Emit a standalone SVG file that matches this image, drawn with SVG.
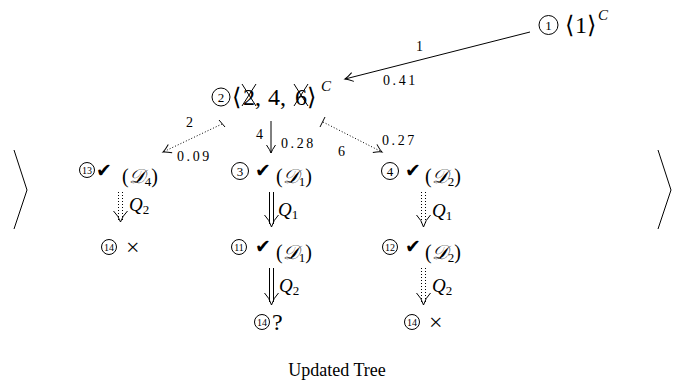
<svg xmlns="http://www.w3.org/2000/svg" width="674" height="388" viewBox="0 0 674 388">
<style>
.t{font-family:"Liberation Serif","DejaVu Serif",serif;fill:#000}
.big{font-size:24px}
.lab{font-size:14px}
.pr{font-size:14px;letter-spacing:2.6px}
.num{font-size:13px;text-anchor:middle}
.num2{font-size:10px;text-anchor:middle}
.ck{font-family:"DejaVu Sans",sans-serif;font-size:19px}
.d{font-size:20px}
.q{font-size:19px;font-style:italic}
.it{font-style:italic}
.sub{font-size:13px;font-style:normal}
.sup{font-size:15px;font-style:italic}
.c{fill:none;stroke:#000;stroke-width:1}
.e{fill:none;stroke:#000;stroke-width:1}
.dot{fill:none;stroke:#000;stroke-width:1;stroke-dasharray:1 2}
.h{fill:none;stroke:#000;stroke-width:1}
</style>
<defs>
<marker id="ah" viewBox="-10 -6 12 12" refX="0" refY="0" markerWidth="12" markerHeight="12" orient="auto" markerUnits="userSpaceOnUse">
<path d="M-8,-4.5 Q-3,-1 0,0 Q-3,1 -8,4.5" fill="none" stroke="#000" stroke-width="1"/>
</marker>
</defs>

<g id="brackets">
<polyline points="14,150 27,190 14,229" class="e" stroke-width="1.3"/>
<polyline points="658,150 671,190 658,229" class="e" stroke-width="1.3"/>
</g>

<g id="n1">
<circle cx="548.5" cy="25" r="9.5" class="c"/>
<text x="548.5" y="29.5" class="t num">1</text>
<text y="33" class="t big"><tspan x="565">⟨</tspan><tspan x="575">1</tspan><tspan x="587">⟩</tspan></text>
<text x="598" y="20" class="t sup">C</text>
</g>

<g id="n2">
<circle cx="221" cy="97" r="9" class="c"/>
<text x="221" y="101.5" class="t num">2</text>
<text y="105" class="t big"><tspan x="232">⟨</tspan><tspan x="243">2</tspan><tspan x="255">,</tspan><tspan x="268">4</tspan><tspan x="280">,</tspan><tspan x="295">6</tspan><tspan x="307">⟩</tspan></text>
<line x1="242" y1="84" x2="256" y2="106" class="e"/>
<line x1="256" y1="84" x2="242" y2="106" class="e"/>
<line x1="294" y1="84" x2="308" y2="106" class="e"/>
<line x1="308" y1="84" x2="294" y2="106" class="e"/>
<text x="321" y="91" class="t sup">C</text>
</g>

<g id="n13">
<circle cx="87" cy="170" r="7.5" class="c"/>
<text x="87" y="173.5" class="t num2">13</text>
<text x="96" y="177" class="ck">✔</text>
<text x="122" y="183" class="t d">(<tspan class="it">𝒟</tspan><tspan class="sub" dy="3">4</tspan><tspan dy="-3">)</tspan></text>
</g>
<g id="n3">
<circle cx="240" cy="171" r="8.5" class="c"/>
<text x="240" y="175.5" class="t num">3</text>
<text x="255" y="177" class="ck">✔</text>
<text x="276" y="183" class="t d">(<tspan class="it">𝒟</tspan><tspan class="sub" dy="3">1</tspan><tspan dy="-3">)</tspan></text>
</g>
<g id="n4">
<circle cx="390" cy="171" r="8.5" class="c"/>
<text x="390" y="175.5" class="t num">4</text>
<text x="405" y="177" class="ck">✔</text>
<text x="425" y="183" class="t d">(<tspan class="it">𝒟</tspan><tspan class="sub" dy="3">2</tspan><tspan dy="-3">)</tspan></text>
</g>
<g id="n14a">
<circle cx="109" cy="247" r="7.5" class="c"/>
<text x="109" y="250.5" class="t num2">14</text>
<text x="126" y="255" class="t" font-size="24">×</text>
</g>
<g id="n11">
<circle cx="239" cy="247" r="7.5" class="c"/>
<text x="239" y="250.5" class="t num2">11</text>
<text x="255" y="253" class="ck">✔</text>
<text x="276" y="259" class="t d">(<tspan class="it">𝒟</tspan><tspan class="sub" dy="3">1</tspan><tspan dy="-3">)</tspan></text>
</g>
<g id="n12">
<circle cx="390" cy="247" r="7.5" class="c"/>
<text x="390" y="250.5" class="t num2">12</text>
<text x="405" y="253" class="ck">✔</text>
<text x="425" y="259" class="t d">(<tspan class="it">𝒟</tspan><tspan class="sub" dy="3">2</tspan><tspan dy="-3">)</tspan></text>
</g>
<g id="n14b">
<circle cx="262" cy="322" r="7.5" class="c"/>
<text x="262" y="325.5" class="t num2">14</text>
<text x="272" y="330" class="t" font-size="24">?</text>
</g>
<g id="n14c">
<circle cx="412" cy="322" r="7.5" class="c"/>
<text x="412" y="325.5" class="t num2">14</text>
<text x="429" y="330" class="t" font-size="24">×</text>
</g>

<g id="connectors">
<line x1="530" y1="32" x2="345" y2="79" class="e" marker-end="url(#ah)"/>
<text x="416" y="51" class="t lab">1</text>
<text x="383" y="85" class="t pr">0.41</text>

<line x1="219" y1="120" x2="225" y2="127" class="e"/>
<line x1="222" y1="124" x2="163" y2="152" class="dot" marker-end="url(#ah)"/>
<text x="186" y="127" class="t lab">2</text>
<text x="177" y="161" class="t pr">0.09</text>

<line x1="271" y1="121" x2="271" y2="153" class="e" marker-end="url(#ah)"/>
<text x="256" y="139" class="t lab">4</text>
<text x="281" y="148" class="t pr">0.28</text>

<line x1="320" y1="127" x2="325" y2="117" class="e"/>
<line x1="323" y1="122" x2="382" y2="152" class="dot" marker-end="url(#ah)"/>
<text x="338" y="156" class="t lab">6</text>
<text x="382" y="145" class="t pr">0.27</text>

<line x1="118.5" y1="192" x2="118.5" y2="220" class="dot"/>
<line x1="122.5" y1="192" x2="122.5" y2="220" class="dot"/>
<path d="M113.5,211 Q118.5,216 120.5,222 Q122.5,216 127.5,211" class="h"/>
<text x="129" y="211" class="t q">Q<tspan class="sub" dy="3">2</tspan></text>

<line x1="269.5" y1="192" x2="269.5" y2="224" class="e"/>
<line x1="273.5" y1="192" x2="273.5" y2="224" class="e"/>
<path d="M264.5,215 Q269.5,220 271.5,227 Q273.5,220 278.5,215" class="h"/>
<text x="278" y="216" class="t q">Q<tspan class="sub" dy="3">1</tspan></text>

<line x1="269.5" y1="268" x2="269.5" y2="302" class="e"/>
<line x1="273.5" y1="268" x2="273.5" y2="302" class="e"/>
<path d="M264.5,293 Q269.5,298 271.5,305 Q273.5,298 278.5,293" class="h"/>
<text x="279" y="292" class="t q">Q<tspan class="sub" dy="3">2</tspan></text>

<line x1="421.5" y1="192" x2="421.5" y2="224" class="dot"/>
<line x1="425.5" y1="192" x2="425.5" y2="224" class="dot"/>
<path d="M416.5,215 Q421.5,220 423.5,227 Q425.5,220 430.5,215" class="h"/>
<text x="432" y="217" class="t q">Q<tspan class="sub" dy="3">1</tspan></text>

<line x1="421.5" y1="268" x2="421.5" y2="302" class="dot"/>
<line x1="425.5" y1="268" x2="425.5" y2="302" class="dot"/>
<path d="M416.5,293 Q421.5,298 423.5,305 Q425.5,298 430.5,293" class="h"/>
<text x="432" y="292" class="t q">Q<tspan class="sub" dy="3">2</tspan></text>
</g>

<text x="337" y="376" class="t" font-size="18" text-anchor="middle">Updated Tree</text>
</svg>
